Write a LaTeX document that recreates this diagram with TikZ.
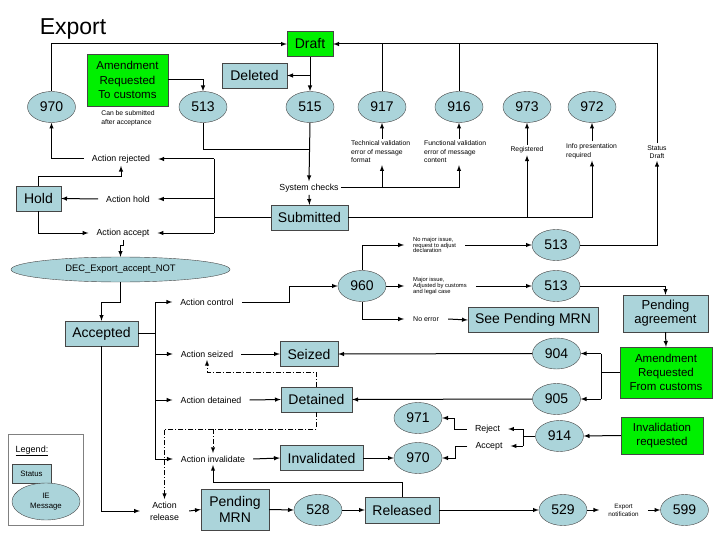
\documentclass[tikz,border=0pt]{standalone}
\usepackage{fontspec}
\setmainfont{Liberation Sans}
\usetikzlibrary{shapes.geometric}
\definecolor{ieblue}{RGB}{171,212,218}
\definecolor{reqgreen}{RGB}{0,240,0}
\definecolor{boxline}{RGB}{70,70,70}
\newcommand{\setfs}[2]{\fontsize{#1}{#2}\selectfont}
\begin{document}
\begin{tikzpicture}[x=1pt, y=-1pt,
    every node/.style={align=center},
    box/.style={rectangle, draw=boxline, fill=ieblue, inner sep=1pt, minimum height=25pt, font=\setfs{14}{16.5}},
    gbox/.style={box, fill=reqgreen, font=\setfs{11.5}{14.3}},
    msg/.style={ellipse, draw=boxline, fill=ieblue, inner sep=0pt, minimum width=48pt, minimum height=31pt, font=\setfs{14}{16}},
    act/.style={inner xsep=8pt, inner ysep=2.5pt, font=\setfs{8.8}{12}},
    note/.style={inner sep=2pt, align=left, font=\setfs{6.8}{8.5}},
    sublbl/.style={inner xsep=9pt, inner ysep=1pt, align=left, font=\setfs{5.8}{5.6}},
    arr/.style={-latex, line width=1pt},
    ln/.style={line width=1pt},
    ddarr/.style={arr, dash pattern=on 5pt off 2pt on 1pt off 2pt}
]
\useasboundingbox (0,0) rectangle (720,540);
\node[font=\setfs{23}{28}, anchor=base] (title) at (73,35) {Export};

\node[box, fill=reqgreen, minimum width=46pt] (draft) at (310,44) {Draft};
\node[gbox, minimum width=81pt, minimum height=52pt] (amto) at (127.5,80) {Amendment\\Requested\\To customs};
\node[note] (cansub) at (128,118) {Can be submitted\\after acceptance};
\node[box, minimum width=65pt] (deleted) at (254.5,75.5) {Deleted};
\node[msg] (n970a) at (51.5,107) {970};
\node[msg] (m513a) at (203,107) {513};
\node[msg] (m515) at (310,107) {515};
\node[msg] (m917) at (382,107) {917};
\node[msg] (m916) at (459,107) {916};
\node[msg] (m973) at (527,107) {973};
\node[msg] (m972) at (592,107) {972};
\node[note, anchor=west] (techtxt) at (349,152) {Technical validation\\error of message\\format};
\node[note, anchor=west] (functxt) at (422,152) {Functional validation\\error of message\\content};
\node[note] (registered) at (527,150) {Registered};
\node[note, anchor=west] (infotxt) at (564,151) {Info presentation\\required};
\node[note, align=center] (stdraft) at (657,152) {Status\\Draft};
\node[act, inner xsep=2pt] (syschk) at (309,188) {System checks};
\node[box, minimum width=77pt] (submitted) at (309.5,217.5) {Submitted};

\node[act] (actrej) at (121,159) {Action rejected};
\node[act] (acthold) at (128,199) {Action hold};
\node[act] (actacc) at (123,233) {Action accept};
\node[box, minimum width=45pt] (hold) at (38.5,198.5) {Hold};
\node[ellipse, draw=boxline, fill=ieblue, inner sep=0pt, minimum width=219pt, minimum height=25pt, font=\setfs{9.4}{11}] (dec) at (120.5,269.5) {DEC\_Export\_accept\_NOT};
\node[box, minimum width=73pt] (accepted) at (101.5,333.5) {Accepted};
\node[act] (actctl) at (207,302) {Action control};
\node[act] (actseiz) at (207,354) {Action seized};
\node[act] (actdet) at (211,400) {Action detained};
\node[act] (actinv) at (213,459) {Action invalidate};
\node[act, inner xsep=10pt] (actrel) at (164.5,511) {Action\\release};

\node[msg] (m960) at (362,286) {960};
\node[sublbl, anchor=west] (noissue) at (404,245) {No major issue,\\request to adjust\\declaration};
\node[sublbl, anchor=west] (majissue) at (404,286) {Major issue,\\Adjusted by customs\\and legal case};
\node[sublbl, anchor=west, font=\setfs{7}{8}] (noerr) at (404,319) {No error};
\node[msg] (m513b) at (556,245) {513};
\node[msg] (m513c) at (556,286) {513};
\node[box, minimum width=130pt] (seepend) at (533,320) {See Pending MRN};
\node[box, minimum width=85pt, minimum height=37pt, font=\setfs{13}{14}] (pendagr) at (665.5,313.5) {Pending\\agreement};
\node[gbox, minimum width=92pt, minimum height=51pt] (amfrom) at (666,372.5) {Amendment\\Requested\\From customs};
\node[msg] (m904) at (556.5,353.5) {904};
\node[msg] (m905) at (556.5,399) {905};
\node[box, minimum width=58pt] (seized) at (309,354) {Seized};
\node[box, minimum width=71pt] (detained) at (316.5,399.5) {Detained};
\node[box, minimum width=83pt] (invalidated) at (321.5,458) {Invalidated};
\node[msg] (m971) at (418,418) {971};
\node[msg] (m970b) at (418,458) {970};
\node[act] (reject) at (487.5,429) {Reject};
\node[act] (accept) at (489,446) {Accept};
\node[msg] (m914) at (559.5,436) {914};
\node[gbox, minimum width=82pt, minimum height=37pt] (invreq) at (662,435.5) {Invalidation\\requested};

\node[box, minimum width=68pt, minimum height=41pt] (pendmrn) at (235,509.5) {Pending\\MRN};
\node[msg] (m528) at (318,510) {528};
\node[box, minimum width=74pt, minimum height=26pt] (released) at (402,510) {Released};
\node[msg] (m529) at (563,510) {529};
\node[note, align=center, inner xsep=9pt, font=\setfs{6.3}{8}] (expnot) at (623.5,510) {Export\\notification};
\node[msg] (m599) at (684.5,510) {599};

\node[draw=gray, minimum width=75pt, minimum height=91pt] (legend) at (45.5,479.5) {};
\node[font=\setfs{9}{11}] (legtitle) at (32,451) {\underline{Legend:}};
\node[box, minimum width=39pt, minimum height=19pt, font=\setfs{7.8}{9}] (legstatus) at (31.5,473.5) {Status};
\node[msg, minimum width=68pt, minimum height=37pt, font=\setfs{7.8}{10}] (legmsg) at (46,501.5) {IE\\Message};

\draw[arr] (n970a.north) |- (draft.west);
\draw[arr] (stdraft.north) |- (draft.east);
\draw[ln] (m917.north) -- (m917.north |- draft.east);
\draw[ln] (m916.north) -- (m916.north |- draft.east);
\draw[arr] (draft.south) -- (m515.north);
\draw[arr] (draft.south |- deleted.east) -- (deleted.east);
\draw[arr] (amto.east) -| (m513a.north);
\coordinate (j513) at (310,150);
\draw[ln] (m513a.south) |- (j513);
\draw[arr] (m515.south) -- (syschk.north);
\draw[arr] (syschk.south) -- (submitted.north);
\draw[arr] (syschk.east) -| (m916.south |- functxt.south);
\draw[arr] (m917.south |- syschk.east) -- (m917.south |- techtxt.south);
\draw[arr] (m917.south |- techtxt.north) -- (m917.south);
\draw[arr] (m916.south |- functxt.north) -- (m916.south);
\draw[arr] (registered.north) -- (m973.south);
\draw[arr] (m972.south |- infotxt.north) -- (m972.south);
\draw[arr] (submitted.east) -| (m972.south |- infotxt.south);
\draw[arr] (registered.south |- submitted.east) -- (registered.south);
\draw[arr] (m513b.east) -| (stdraft.south);

\coordinate (jsub) at (214,217.5);
\draw[line width=1.6pt] (submitted.west) -- (jsub);
\draw[ln] (jsub |- actrej) -- (jsub |- actacc);
\draw[arr] (jsub |- actrej) -- (actrej.east);
\draw[arr] (jsub |- acthold) -- (acthold.east);
\draw[arr] (jsub |- actacc) -- (actacc.east);
\draw[arr] (actrej.west) -| (n970a.south);
\draw[arr] (acthold.west) -- (hold.east);
\draw[arr] (hold.north) -- ++(0,-9) -| (actrej.south);
\draw[arr] (hold.south) |- (actacc.west);
\draw[arr] (actacc.south) -- ++(0,6) -| (dec.north);
\draw[arr] (dec.south) -- ++(0,20) -| (accepted.north);

\coordinate (jacc) at (155,333.5);
\draw[line width=1.6pt] (accepted.east) -- (jacc);
\draw[ln] (jacc |- actctl) -- (jacc |- actinv);
\foreach \lbl in {actctl, actseiz, actdet, actinv}
    \draw[arr] (jacc |- \lbl) -- (\lbl.west);
\draw[arr] (accepted.south) |- (actrel.west);
\draw[arr] (actctl.east) -- ++(48,0) |- (m960.west);
\draw[arr] (actseiz.east) -- (seized.west);
\draw[arr] (actdet.east) -- (detained.west);
\draw[arr] (actinv.east) -- (invalidated.west);
\draw[arr] (invalidated.east) -- (m970b.west);

\draw[arr] (m960.north) |- (noissue.west);
\draw[arr] (m960.east) -- (majissue.west);
\draw[arr] (m960.south) |- (noerr.west);
\draw[arr] (noissue.east) -- (m513b.west);
\draw[arr] (majissue.east) -- (m513c.west);
\draw[arr] (noerr.east) -- (seepend.west);
\draw[arr] (m513c.east) -| (pendagr.north);
\draw[arr] (pendagr.south) -- (amfrom.north);
\coordinate (jam) at (601,372.5);
\draw[ln] (amfrom.west) -- (jam);
\draw[ln] (jam |- m904) -- (jam |- m905);
\draw[arr] (jam |- m904) -- (m904.east);
\draw[arr] (jam |- m905) -- (m905.east);
\draw[arr] (m904.west) -- (seized.east);
\draw[arr] (m905.west) -- (detained.east);

\draw[arr] (invreq.west) -- (m914.east);
\coordinate (jinv) at (523,436);
\draw[ln] (m914.west) -- (jinv);
\draw[ln] (jinv |- reject) -- (jinv |- accept);
\draw[arr] (jinv |- reject) -- (reject.east);
\draw[arr] (jinv |- accept) -- (accept.east);
\draw[arr] (reject.west) -- ++(-12,0) |- (m971.east);
\draw[arr] (accept.west) -- ++(-12,0) |- (m970b.east);

\draw[arr] (actrel.east) -- (pendmrn.west);
\draw[arr] (pendmrn.east) -- (m528.west);
\draw[arr] (m528.east) -- (released.west);
\draw[arr] (released.east) -- (m529.west);
\draw[arr] (m529.east) -- (expnot.west);
\draw[arr] (expnot.east) -- (m599.west);
\draw[arr] (released.north) -- ++(0,-14) -| (actinv.south);

\draw[ddarr] (detained.north) -- ++(0,-14) -| (actseiz.south);
\coordinate (jdet) at (316.5,429);
\draw[ddarr] (detained.south) -- (jdet) -| (actrel.north);
\draw[ddarr] (actinv.north |- jdet) -- (actinv.north);
\end{tikzpicture}
\end{document}
